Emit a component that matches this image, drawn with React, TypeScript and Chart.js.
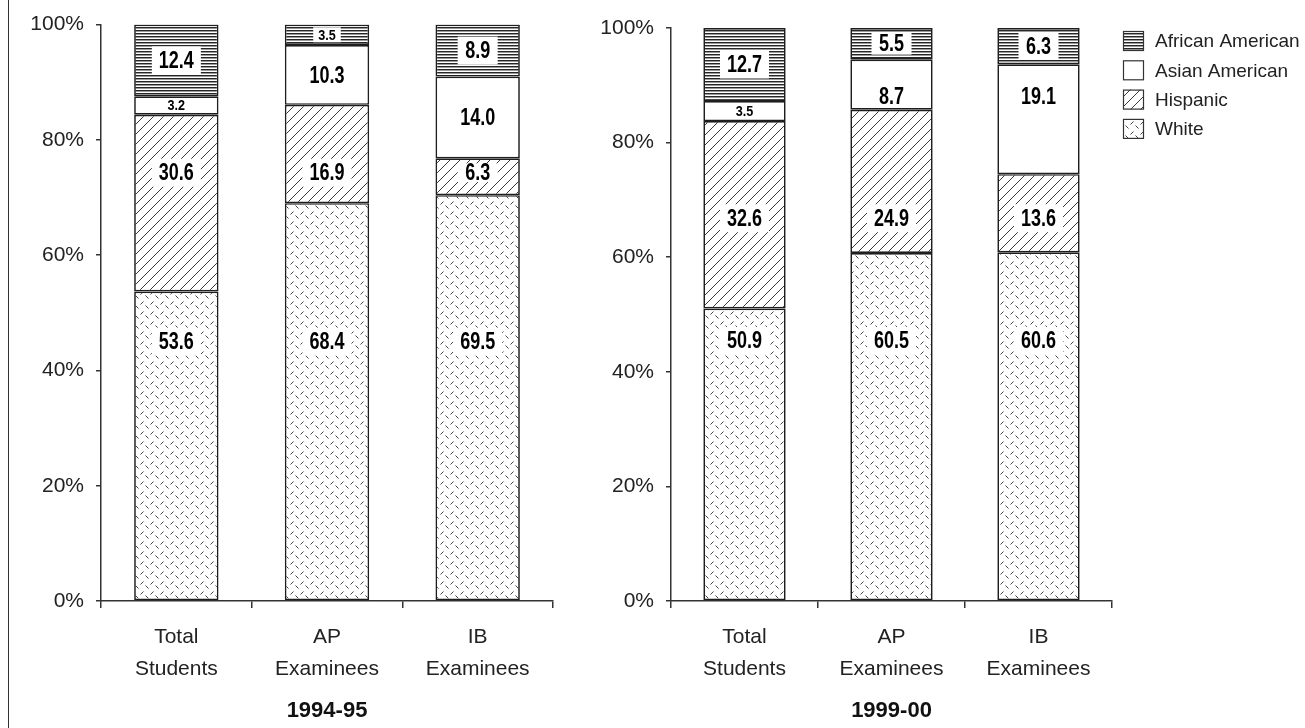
import React, { useEffect, useRef } from "react";
import { Chart, registerables } from "chart.js";

Chart.register(...registerables);

const FONT = "'Liberation Sans', Arial, Helvetica, sans-serif";

// ---- data ----
const categories: string[][] = [
  ["Total", "Students"],
  ["AP", "Examinees"],
  ["IB", "Examinees"],
];
const seriesNames = ["White", "Hispanic", "Asian American", "African American"];
const legendOrder = ["African American", "Asian American", "Hispanic", "White"];
const yTickValues = [0, 20, 40, 60, 80, 100];
const periodTitles = ["1994-95", "1999-00"];

const white9495 = [53.6, 68.4, 69.5];
const hispanic9495 = [30.6, 16.9, 6.3];
const asian9495 = [3.2, 10.3, 14.0];
const african9495 = [12.4, 3.5, 8.9];

const white9900 = [50.9, 60.5, 60.6];
const hispanic9900 = [32.6, 24.9, 13.6];
const asian9900 = [3.5, 8.7, 19.1];
const african9900 = [12.7, 5.5, 6.3];

// label anchors on the % axis (null = centre of the segment)
const labelAt9495: (number | null)[][] = [
  [45, 45, 45],
  [74.3, 74.3, 74.3],
  [null, null, null],
  [null, null, null],
];
const labelAt9900: (number | null)[][] = [
  [45.4, 45.4, 45.4],
  [66.8, 66.8, 66.8],
  [null, 88, 88],
  [null, null, null],
];

// ---- patterns ----
function makePattern(w: number, h: number, draw: (c: CanvasRenderingContext2D) => void) {
  const cv = document.createElement("canvas");
  cv.width = w;
  cv.height = h;
  const c = cv.getContext("2d")!;
  c.fillStyle = "#ffffff";
  c.fillRect(0, 0, w, h);
  draw(c);
  return c.createPattern(cv, "repeat")!;
}

function makePatterns(): Record<string, CanvasPattern | string> {
  const african = makePattern(4, 3, (c) => {
    c.fillStyle = "#262626";
    c.fillRect(0, 0, 4, 1);
    c.fillStyle = "#9a9a9a";
    c.fillRect(0, 1, 4, 1);
  });
  const hispanic = makePattern(10, 10, (c) => {
    c.strokeStyle = "#3a3a3a";
    c.lineWidth = 1;
    c.beginPath();
    c.moveTo(-1, 11);
    c.lineTo(11, -1);
    c.moveTo(-2, 2);
    c.lineTo(2, -2);
    c.moveTo(8, 12);
    c.lineTo(12, 8);
    c.stroke();
  });
  const white = makePattern(10, 10, (c) => {
    c.strokeStyle = "#444";
    c.lineWidth = 1;
    c.beginPath();
    c.moveTo(0.5, 4.5);
    c.lineTo(3.5, 1.5);
    c.moveTo(5.5, 5.5);
    c.lineTo(8.5, 8.5);
    c.stroke();
  });
  return {
    White: white,
    Hispanic: hispanic,
    "Asian American": "#ffffff",
    "African American": african,
  };
}

// ---- plugins ----
const segLabelPlugin = {
  id: "segLabels",
  afterDatasetsDraw(chart: any) {
    const ctx: CanvasRenderingContext2D = chart.ctx;
    const yScale = chart.scales.y;
    chart.data.datasets.forEach((ds: any, di: number) => {
      const meta = chart.getDatasetMeta(di);
      meta.data.forEach((el: any, i: number) => {
        const v: number = ds.rawValues[i];
        const small = v < 4;
        const txt = v.toFixed(1);
        const cx = el.x;
        const anchor = ds.labelAt[i];
        const cy = anchor == null ? (el.y + el.base) / 2 : yScale.getPixelForValue(anchor);
        const room = 2 * Math.min(cy - Math.min(el.y, el.base), Math.max(el.y, el.base) - cy);
        const size = small ? 14 : 24;
        const sx = small ? 0.9 : 0.75;
        ctx.save();
        ctx.font = `bold ${size}px ${FONT}`;
        const tw = ctx.measureText(txt).width * sx;
        const bw = small ? tw + 10 : Math.max(tw + 14, 40);
        const bh = small ? Math.min(15, room - 4) : Math.min(28, room - 10);
        ctx.fillStyle = "#ffffff";
        ctx.fillRect(cx - bw / 2, cy - bh / 2, bw, bh);
        ctx.translate(cx, cy + 1);
        ctx.scale(sx, 1);
        ctx.fillStyle = "#000";
        ctx.textAlign = "center";
        ctx.textBaseline = "middle";
        ctx.fillText(txt, 0, 0);
        ctx.restore();
      });
    });
  },
};

const legendBoxPlugin = {
  id: "legendBox",
  afterDraw(chart: any, _args: any, opts: any) {
    if (!opts || !opts.show) return;
    const ctx: CanvasRenderingContext2D = chart.ctx;
    const pats = opts.patterns;
    ctx.save();
    legendOrder.forEach((name, i) => {
      const x = opts.x;
      const y = opts.y + i * opts.pitch;
      ctx.fillStyle = pats[name];
      ctx.fillRect(x, y, 21, 20);
      ctx.strokeStyle = "#333";
      ctx.lineWidth = 1.2;
      ctx.strokeRect(x + 0.5, y + 0.5, 20, 19);
      ctx.fillStyle = "#222";
      ctx.font = `19px ${FONT}`;
      ctx.textAlign = "left";
      ctx.textBaseline = "middle";
      ctx.fillText(name, x + 32, y + 11);
    });
    ctx.restore();
  },
};

// ---- config builder ----
function buildConfig(
  seriesRaw: number[][],
  labelAt: (number | null)[][],
  title: string,
  patterns: Record<string, any>,
  geom: { yWidth: number; top: number; right: number; bottomY: number; height: number },
  legend: any
): any {
  const totals = categories.map((_, i) => seriesRaw.reduce((s, arr) => s + arr[i], 0));
  const datasets = seriesRaw.map((arr, si) => ({
    label: seriesNames[si],
    data: arr.map((v, i) => (v / totals[i]) * 100),
    rawValues: arr,
    labelAt: labelAt[si],
    backgroundColor: patterns[seriesNames[si]],
    borderColor: "#1e1e1e",
    borderWidth: 1.7,
    borderSkipped: false,
    barPercentage: 0.56,
    categoryPercentage: 1,
  }));
  return {
    type: "bar",
    data: { labels: categories, datasets },
    plugins: [segLabelPlugin, legendBoxPlugin],
    options: {
      responsive: false,
      animation: false,
      events: [],
      layout: { padding: { left: 0, right: geom.right, top: geom.top, bottom: 0 } },
      plugins: {
        legend: { display: false },
        tooltip: { enabled: false },
        legendBox: legend,
      },
      scales: {
        x: {
          stacked: true,
          grid: {
            display: true,
            drawOnChartArea: false,
            drawTicks: true,
            tickLength: 7,
            color: "#333",
            lineWidth: 1.5,
            offset: true,
          },
          border: { color: "#333", width: 1.5 },
          ticks: {
            color: "#222",
            font: { family: FONT, size: 21, lineHeight: 32 / 21 },
            padding: 13,
            maxRotation: 0,
            autoSkip: false,
          },
          title: {
            display: true,
            text: title,
            color: "#111",
            font: { family: FONT, size: 22, weight: "bold" },
            padding: { top: 0, bottom: 4 },
          },
          afterFit: (s: any) => {
            s.height = geom.height - geom.bottomY;
          },
        },
        y: {
          stacked: true,
          min: 0,
          max: 100,
          afterBuildTicks: (s: any) => {
            s.ticks = yTickValues.map((v) => ({ value: v }));
          },
          ticks: {
            callback: (v: any) => v + "%",
            color: "#222",
            font: { family: FONT, size: 21 },
            padding: 12,
          },
          grid: { drawOnChartArea: false, tickLength: 5, color: "#333", lineWidth: 1.5 },
          border: { color: "#333", width: 1.5 },
          afterFit: (s: any) => {
            s.width = geom.yWidth;
          },
        },
      },
    },
  };
}

export default function App() {
  const leftRef = useRef<HTMLCanvasElement>(null);
  const rightRef = useRef<HTMLCanvasElement>(null);

  useEffect(() => {
    const patterns = makePatterns();
    const c1 = new Chart(
      leftRef.current!,
      buildConfig(
        [white9495, hispanic9495, asian9495, african9495],
        labelAt9495,
        periodTitles[0],
        patterns,
        { yWidth: 101, top: 21, right: 560 - 553, bottomY: 601, height: 728 },
        { show: false }
      )
    );
    const c2 = new Chart(
      rightRef.current!,
      buildConfig(
        [white9900, hispanic9900, asian9900, african9900],
        labelAt9900,
        periodTitles[1],
        patterns,
        { yWidth: 671 - 560, top: 28, right: 745 - (1112 - 560), bottomY: 601, height: 728 },
        { show: true, patterns, x: 1123 - 560, y: 31, pitch: 29.3 }
      )
    );
    return () => {
      c1.destroy();
      c2.destroy();
    };
  }, []);

  return (
    <div
      style={{
        position: "absolute",
        left: 0,
        top: 0,
        width: 1305,
        height: 728,
        background: "#fff",
        overflow: "hidden",
      }}
    >
      <div style={{ position: "absolute", left: 8, top: 0, width: 1, height: 728, background: "#333" }} />
      <div style={{ position: "absolute", left: 0, top: 0, width: 560, height: 728 }}>
        <canvas ref={leftRef} width={560} height={728} style={{ width: 560, height: 728, display: "block" }} />
      </div>
      <div style={{ position: "absolute", left: 560, top: 0, width: 745, height: 728 }}>
        <canvas ref={rightRef} width={745} height={728} style={{ width: 745, height: 728, display: "block" }} />
      </div>
    </div>
  );
}
